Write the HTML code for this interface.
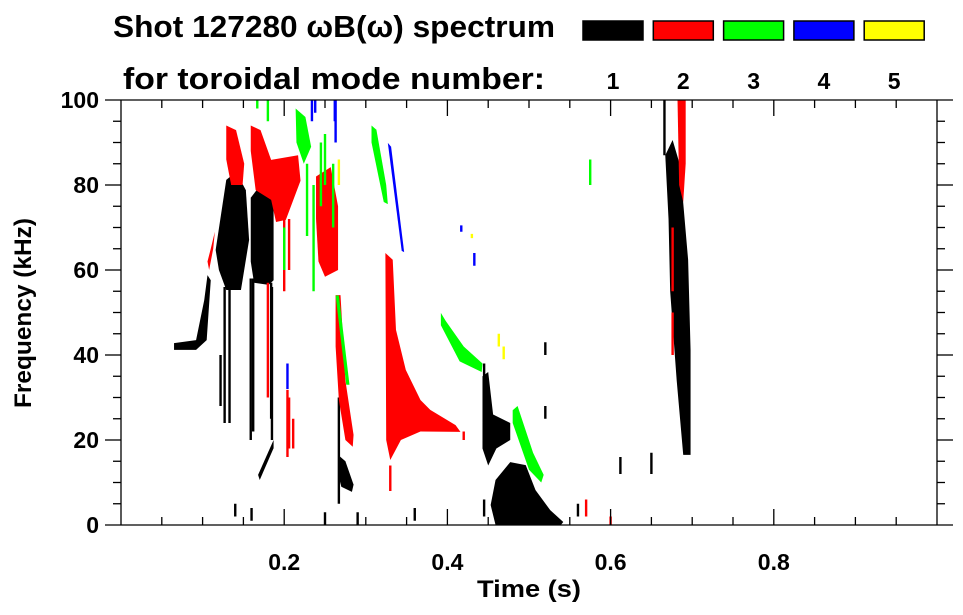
<!DOCTYPE html>
<html><head><meta charset="utf-8"><style>
html,body{margin:0;padding:0;background:#fff}
svg{display:block;font-family:"Liberation Sans",sans-serif;font-weight:bold}
</style></head><body>
<svg id="chart" width="963" height="615" viewBox="0 0 963 615">
<text x="113" y="37" font-size="31" textLength="442" lengthAdjust="spacingAndGlyphs">Shot 127280 ωB(ω) spectrum</text>
<text x="123" y="89" font-size="31" textLength="422" lengthAdjust="spacingAndGlyphs">for toroidal mode number:</text>
<g id="legend"></g>
<g id="marks"></g>
<g id="axes"></g>
<text x="529" y="597" font-size="24" text-anchor="middle" textLength="104" lengthAdjust="spacingAndGlyphs">Time (s)</text>
<text transform="translate(31,313) rotate(-90)" font-size="24" text-anchor="middle" textLength="190" lengthAdjust="spacingAndGlyphs">Frequency (kHz)</text>
</svg>
<script>
const modeNumbers = ["1","2","3","4","5"];
const modeColors = ["#000000","#ff0000","#00ff00","#0000ff","#ffff00"];
const xTicks = [0.2,0.4,0.6,0.8];
const xTickLabels = ["0.2","0.4","0.6","0.8"];
const yTicks = [0,20,40,60,80,100];
const yTickLabels = ["0","20","40","60","80","100"];
// blobs: polygons of [time(s), freq(kHz)]
const mode1Blobs = [
 [[.065,42.8],[.092,43.5],[.102,52.9],[.106,58.8],[.110,57.6],[.105,43.5],[.092,41.2],[.065,41.2]],
 [[.116,64.7],[.129,81.2],[.141,83.1],[.153,78.8],[.157,67.1],[.147,55.3],[.129,55.3],[.120,60]],
 [[.159,77],[.171,80],[.181,79],[.187,75],[.187,57.6],[.181,56.5],[.163,57],[.159,62]],
 [[.168,11.8],[.187,20],[.187,18.1],[.170,10.6]],
 [[.266,16.5],[.275,15],[.285,9.5],[.283,7.8],[.270,9],[.266,12]],
 [[.453,4.7],[.459,10.6],[.477,14.8],[.496,14.1],[.508,8.2],[.526,3.5],[.542,0.7],[.539,0],[.459,0]],
 [[.443,35],[.450,36],[.456,26],[.477,24],[.477,20],[.460,18],[.450,14],[.443,18]],
 [[.667,87],[.676,90.6],[.685,84.7],[.695,62.4],[.698,41.2],[.698,16.5],[.689,16.5],[.681,34],[.673,55],[.671,72]]
];
const mode1Streaks = [[.127,24,56],[.133,24,56],[.159,20,58],[.162,22,58],[.184,25,57],[.185,20,56],[.666,87,100],[.122,28,40],[.267,5,30],[.612,12,16],[.650,12,17],[.14,2,5],[.16,1,4],[.25,0,3],[.29,0,3],[.36,1,4],[.445,2,6],[.445,22,38],[.52,40,43],[.52,25,28],[.56,2,5]];
const mode2Blobs = [
 [[.129,94],[.141,92.9],[.151,85],[.149,80],[.135,80],[.129,86]],
 [[.159,94],[.171,92.9],[.184,85.9],[.217,87],[.220,81],[.202,71.8],[.190,71.3],[.184,76.5],[.165,78.8],[.159,88]],
 [[.239,82],[.257,84.2],[.266,75],[.266,60],[.250,58.4],[.242,62],[.239,72]],
 [[.263,54.1],[.269,54.1],[.275,34],[.285,21.2],[.284,18.4],[.275,20],[.267,29.4],[.263,42]],
 [[.324,64],[.333,62.4],[.337,45.9],[.349,36.5],[.367,29.4],[.379,27.1],[.410,23.5],[.416,21.9],[.367,22],[.343,20],[.330,15.3],[.325,20]],
 [[.106,62],[.110,65],[.115,69],[.113,65],[.108,60]],
 [[.682,100],[.692,100],[.692,85],[.689,76],[.684,80]]
];
const mode2Streaks = [[.204,16,31.8],[.206,18,30],[.211,18,25],[.2,55,75],[.206,60,72],[.18,30,57],[.676,55,70],[.676,40,50],[.33,8,14],[.42,20,22],[.57,2,6],[.60,0,2]];
const mode3Blobs = [
 [[.214,98],[.226,96],[.233,89],[.224,85],[.215,90]],
 [[.307,94],[.313,93],[.325,80],[.327,75.5],[.322,76],[.307,90]],
 [[.263,54],[.267,54],[.280,33],[.276,33]],
 [[.392,49.9],[.398,48],[.420,42],[.443,38],[.442,36],[.415,38.5],[.392,47]],
 [[.480,27],[.486,28],[.505,17],[.518,11.8],[.515,10],[.500,13],[.480,24]]
];
const mode3Streaks = [[.228,68,85],[.236,55,80],[.245,75,90],[.25,80,92],[.26,70,85],[.18,95,100],[.167,98,100],[.20,60,70],[.575,80,86]];
const mode4Blobs = [
 [[.327,89.9],[.331,89],[.347,64.2],[.344,64.5]]
];
const mode4Streaks = [[.263,90,100],[.262,95,100],[.234,95,100],[.238,97,100],[.204,32,38],[.417,69,70.5],[.433,61,64]];
const mode5Streaks = [[.463,42,45],[.469,39,42],[.267,80,86],[.430,67.5,68.5]];

const NS="http://www.w3.org/2000/svg";
const X0=121, X1=937, Y0=525, Y1=100;
const xScale = t => X0 + t*(X1-X0);
const yScale = f => Y0 - f/100*(Y0-Y1);
function mk(tag, attrs, parent){const e=document.createElementNS(NS,tag);for(const k in attrs)e.setAttribute(k,attrs[k]);parent.appendChild(e);return e;}
const marks=document.getElementById('marks');
function drawBlobs(blobs,color,name){
 blobs.forEach(b=>{
  const p=mk('polygon',{points:b.map(q=>xScale(q[0])+','+yScale(q[1])).join(' '),fill:color},marks);
  
  
 });
}
function drawStreaks(st,color,name){
 st.forEach(s=>{
  const r=mk('rect',{x:xScale(s[0])-1.2,y:yScale(s[2]),width:2.4,height:Math.max(1.5,yScale(s[1])-yScale(s[2])),fill:color},marks);
  
  
 });
}
drawBlobs(mode1Blobs,modeColors[0],'mode-1');drawStreaks(mode1Streaks,modeColors[0],'mode-1');
drawBlobs(mode2Blobs,modeColors[1],'mode-2');drawStreaks(mode2Streaks,modeColors[1],'mode-2');
drawBlobs(mode3Blobs,modeColors[2],'mode-3');drawStreaks(mode3Streaks,modeColors[2],'mode-3');
drawBlobs(mode4Blobs,modeColors[3],'mode-4');drawStreaks(mode4Streaks,modeColors[3],'mode-4');
drawStreaks(mode5Streaks,modeColors[4],'mode-5');

// legend
const lg=document.getElementById('legend');
modeNumbers.forEach((m,i)=>{
 const x=583+i*70.3;
 const r=mk('rect',{x:x,y:21,width:60,height:19,fill:modeColors[i],stroke:'#000','stroke-width':1.5},lg);
 
 
 const t=mk('text',{x:x+30,y:89,'font-size':23,'text-anchor':'middle'},lg);
 t.textContent=m;
 
 
});

// axes
const ax=document.getElementById('axes');
const ln=(x1,y1,x2,y2)=>mk('line',{x1,y1,x2,y2,stroke:'#000','stroke-width':1.3},ax);
ln(X0,Y1,X0,Y0);ln(X1,Y1,X1,Y0);
ln(105,Y1,953,Y1);ln(105,Y0,953,Y0);
for(let f=5;f<100;f+=5){
 const y=yScale(f), major=f%20===0;
 ln(major?105:113,y,X0,y);ln(X1,y,major?953:945,y);
}
for(let t=0.05;t<0.99;t+=0.05){
 const x=xScale(t), major=Math.abs(t/0.2-Math.round(t/0.2))<1e-6;
 ln(x,Y0,x,Y0-(major?16:8));ln(x,Y1,x,Y1+(major?16:8));
}
xTicks.forEach((t,i)=>{
 const e=mk('text',{x:xScale(t),y:570,'font-size':23,'text-anchor':'middle'},ax);
 e.textContent=xTickLabels[i];
 
 
});
yTicks.forEach((f,i)=>{
 const e=mk('text',{x:99,y:yScale(f)+8,'font-size':23,'text-anchor':'end'},ax);
 e.textContent=yTickLabels[i];
 
 
});
</script>
</body></html>
